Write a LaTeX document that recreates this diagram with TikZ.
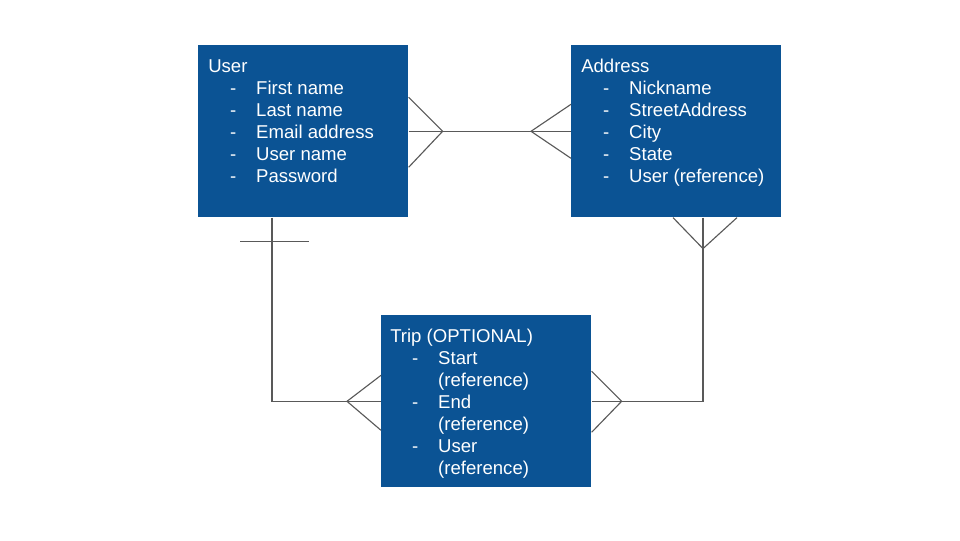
\documentclass[tikz,border=0pt]{standalone}
\usepackage{xcolor}
\usepackage{fontspec}
\setmainfont{Liberation Sans}
\usepackage{tikz}
\definecolor{entityBlue}{RGB}{11, 83, 148}
\definecolor{linkGray}{RGB}{89, 89, 89}
\usetikzlibrary{positioning}
\newcommand{\attr}[1]{\hspace*{15.6pt}\makebox[18.5pt][l]{-}#1}
\newcommand{\attrmore}[1]{\hspace*{34.1pt}#1}

\begin{document}
\begin{tikzpicture}[
    x=0.025cm, y=-0.025cm,
    entity/.style={rectangle, fill=entityBlue, anchor=north west, inner sep=0pt, minimum width=5.25cm, minimum height=4.3cm},
    fields/.style={anchor=base west, inner sep=0pt, text=white, font=\fontsize{13.2}{15.65}\selectfont},
    link/.style={draw=linkGray, line width=0.8pt}
]
    \useasboundingbox (0,0) rectangle (960,540);

    \node[entity] (user) at (198,45) {};
    \node[entity] (address) at (571,45) {};
    \node[entity] (trip) at (381,315) {};

    \node[fields] (userFields) at ([shift={(10,27)}]user.north west) {\begin{tabular}[t]{@{}l@{}}
        User\\ \attr{First name}\\ \attr{Last name}\\ \attr{Email address}\\ \attr{User name}\\ \attr{Password}
    \end{tabular}};
    \node[fields] (addressFields) at ([shift={(10,27)}]address.north west) {\begin{tabular}[t]{@{}l@{}}
        Address\\ \attr{Nickname}\\ \attr{StreetAddress}\\ \attr{City}\\ \attr{State}\\ \attr{User (reference)}
    \end{tabular}};
    \node[fields] (tripFields) at ([shift={(9,27)}]trip.north west) {\begin{tabular}[t]{@{}l@{}}
        Trip (OPTIONAL)\\ \attr{Start}\\ \attrmore{(reference)}\\ \attr{End}\\ \attrmore{(reference)}\\ \attr{User}\\ \attrmore{(reference)}
    \end{tabular}};

    \draw[link] (user.east) -- (address.west);
    \draw[link] ([shift={(0,-34)}]user.east) -- ([shift={(34,0)}]user.east) -- ([shift={(0,36)}]user.east);
    \draw[link] ([shift={(0,-27)}]address.west) -- ([shift={(-40,0)}]address.west) -- ([shift={(0,27)}]address.west);

    \draw[link] ([shift={(74,0)}]user.south west) |- (trip.west);
    \draw[link] ([shift={(42,24)}]user.south west) -- ([shift={(111,24)}]user.south west);
    \draw[link] ([shift={(0,-26)}]trip.west) -- ([shift={(-34,0)}]trip.west) -- ([shift={(0,29)}]trip.west);

    \draw[link] ([shift={(132,0)}]address.south west) |- (trip.east);
    \draw[link] ([shift={(102,0)}]address.south west) -- ([shift={(132,31)}]address.south west) -- ([shift={(166,0)}]address.south west);
    \draw[link] ([shift={(0,-30)}]trip.east) -- ([shift={(30,0)}]trip.east) -- ([shift={(0,31)}]trip.east);
\end{tikzpicture}
\end{document}
